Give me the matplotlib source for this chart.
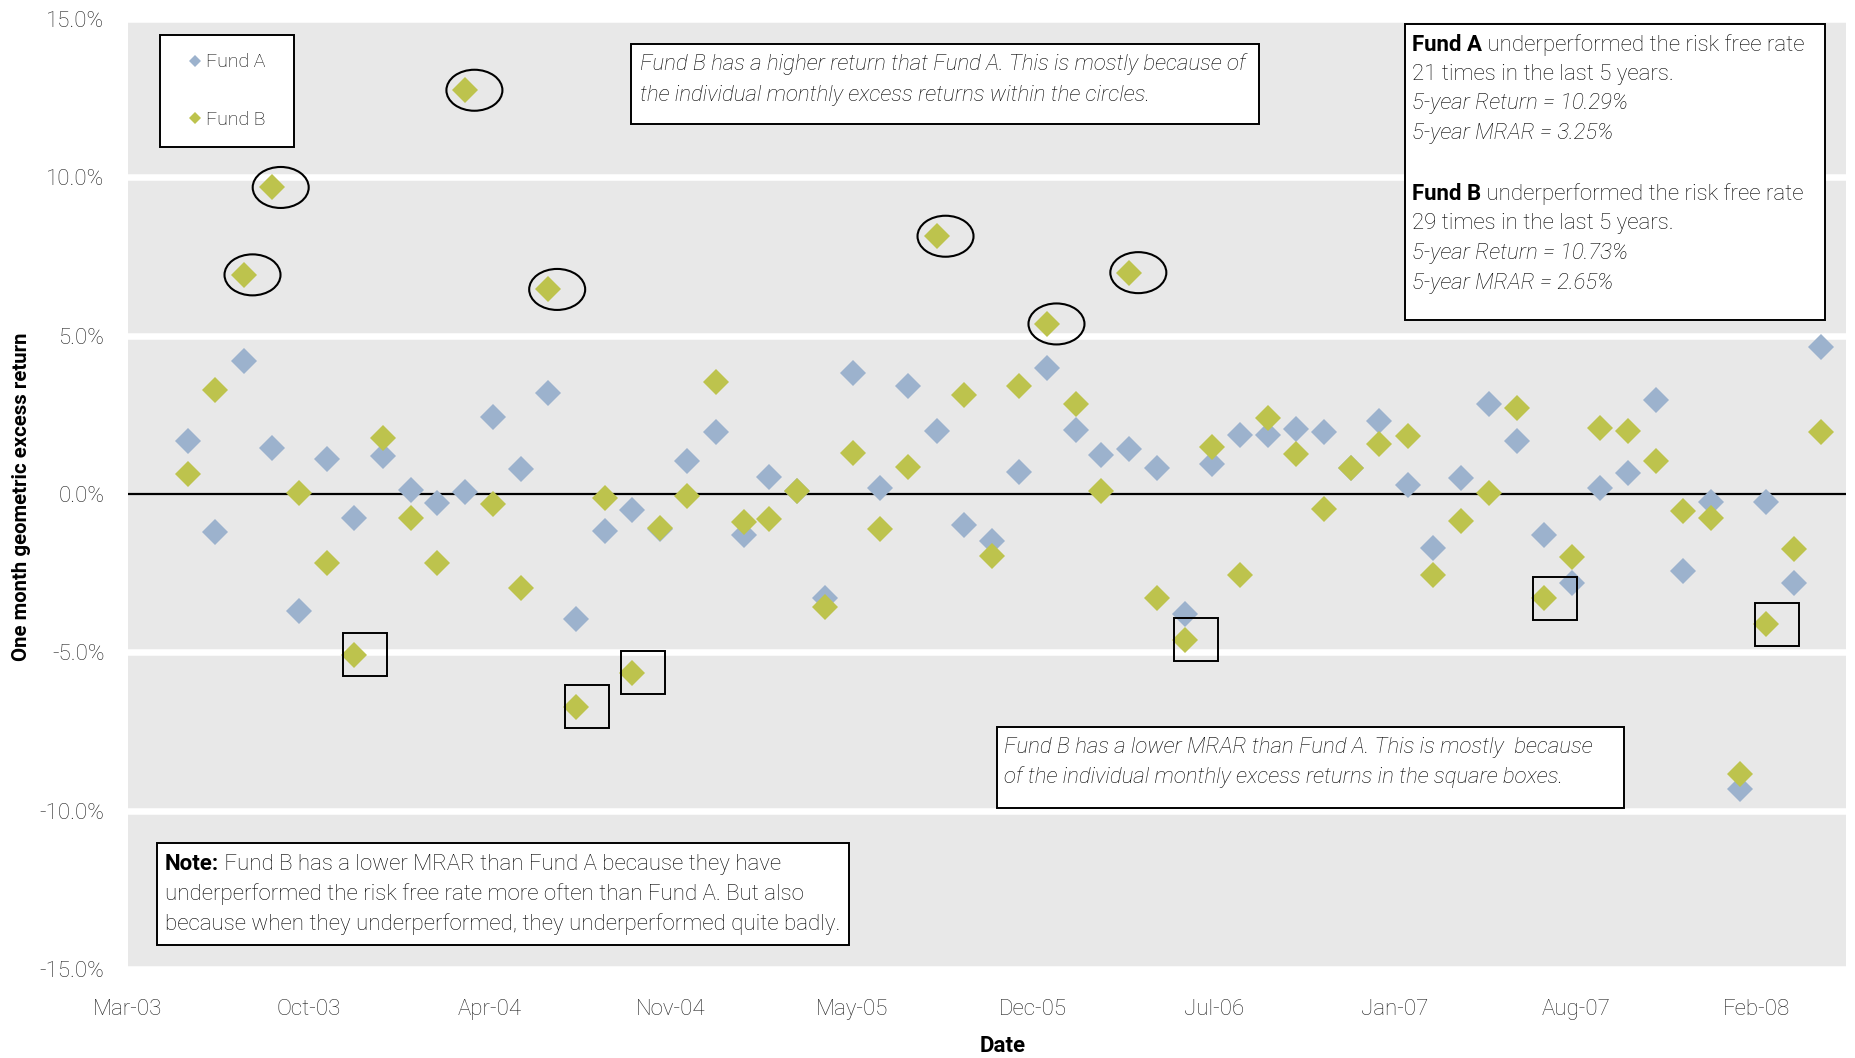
import matplotlib
matplotlib.use("Agg")
import matplotlib.pyplot as plt
import matplotlib.dates as mdates
import pandas as pd
from matplotlib import font_manager
from matplotlib.patches import Ellipse, Rectangle
from matplotlib.ticker import FuncFormatter
from matplotlib.transforms import Affine2D, ScaledTranslation

# monthly geometric excess returns (%), May-03 .. Apr-08
dates = pd.date_range("2003-05-31", periods=60, freq="ME")
fund_a = [1.68, -1.21, 4.19, 1.45, -3.71, 1.12, -0.75, 1.20, 0.14, -0.29,
          0.05, 2.44, 0.78, 3.20, -3.96, -1.16, -0.52, -1.12, 1.03, 1.95,
          -1.29, 0.55, 0.08, -3.29, 3.81, 0.20, 3.42, 1.99, -0.98, -1.47,
          0.70, 3.99, 2.02, 1.23, 1.42, 0.81, -3.79, 0.95, 1.87, 1.86,
          2.04, 1.95, 0.81, 2.32, 0.28, -1.72, 0.49, 2.83, 1.68, -1.31,
          -2.82, 0.20, 0.65, 2.97, -2.42, -0.24, -9.33, -0.24, -2.80, 4.64]
fund_b = [0.62, 3.27, 6.92, 9.68, 0.04, -2.19, -5.08, 1.77, -0.75, -2.19,
          12.75, -0.33, -2.98, 6.46, -6.72, -0.14, -5.64, -1.06, -0.06, 3.54,
          -0.87, -0.79, 0.08, -3.56, 1.31, -1.09, 0.84, 8.14, 3.13, -1.96,
          3.41, 5.37, 2.83, 0.09, 6.99, -3.29, -4.61, 1.49, -2.57, 2.39,
          1.26, -0.48, 0.81, 1.58, 1.83, -2.57, -0.85, 0.04, 2.71, -3.29,
          -2.00, 2.09, 1.99, 1.03, -0.53, -0.75, -8.85, -4.11, -1.73, 1.95]

circled = [2, 3, 10, 13, 27, 31, 34]      # big Fund B gains
boxed = [6, 14, 16, 36, 49, 57]           # big Fund B losses

tick_dates = pd.date_range("2003-03-26", periods=10, freq="199D")
y_ticks = [-15, -10, -5, 0, 5, 10, 15]

BLUE = "#9cb2cd"
GREEN = "#bdc34d"

names = {f.name for f in font_manager.fontManager.ttflist}
if "Roboto" in names:
    plt.rcParams["font.family"] = ["Roboto", "DejaVu Sans"]
    plt.rcParams["font.weight"] = "light"
    FS = 16
else:
    plt.rcParams["font.family"] = ["Liberation Sans", "DejaVu Sans"]
    FS = 15.3

W, H = 1856, 1058
fig = plt.figure(figsize=(W / 100, H / 100), dpi=100)
ax = fig.add_axes([128 / W, 89 / H, 1718 / W, 950 / H])
ax.set_facecolor("#e8e8e8")
for s in ax.spines.values():
    s.set_visible(False)

x = mdates.date2num(dates)
ax.plot(x, fund_a, "D", ms=13.7, mew=0, color=BLUE, zorder=3, label="Fund A")
ax.plot(x, fund_b, "D", ms=13.7, mew=0, color=GREEN, zorder=3, label="Fund B")

x0 = mdates.date2num(tick_dates[0])
ax.set_xlim(x0, x0 + 1889)
ax.set_ylim(-15, 15)
ax.set_xticks(mdates.date2num(tick_dates))
ax.xaxis.set_major_formatter(mdates.DateFormatter("%b-%y"))
ax.set_yticks(y_ticks)
ax.yaxis.set_major_formatter(FuncFormatter(lambda v, p: f"{v:.1f}%"))
ax.tick_params(length=0, labelsize=16, labelcolor="#222222")
ax.tick_params(axis="x", pad=21.5)
ax.tick_params(axis="y", pad=17)

for v in y_ticks:
    if v != 0:
        ax.axhline(v, color="white", lw=4.7, zorder=1)
ax.axhline(0, color="black", lw=1.6, zorder=2)

# circles / squares around selected Fund B months (sizes in inches)
for i in circled:
    off = ScaledTranslation(x[i], fund_b[i], ax.transData)
    ax.add_artist(Ellipse((0.09, 0.0), 0.56, 0.41, transform=fig.dpi_scale_trans + off,
                          fill=False, ec="black", lw=1.5, zorder=4))
for i in boxed:
    off = ScaledTranslation(x[i], fund_b[i], ax.transData)
    ax.add_artist(Rectangle((0.11 - 0.22, -0.215), 0.44, 0.43, transform=fig.dpi_scale_trans + off,
                            fill=False, ec="black", lw=1.4, zorder=4))

# pixel coordinates, origin top-left
tpx = Affine2D().scale(1, -1).translate(0, H)


def box(x1, y1, x2, y2):
    ax.add_artist(Rectangle((x1, y1), x2 - x1, y2 - y1, transform=tpx, fc="white",
                            ec="black", lw=1.4, zorder=5, clip_on=False))


def line(xp, yp, parts, size=FS):
    prev = None
    for s, weight, style in parts:
        if prev is None:
            prev = ax.text(xp, yp, s, transform=tpx, fontsize=size, fontweight=weight,
                           fontstyle=style, va="center", ha="left", zorder=6)
        else:
            prev = ax.annotate(s, xy=(1, 0), xycoords=prev, fontsize=size, fontweight=weight,
                               fontstyle=style, va="bottom", ha="left", zorder=6)


# legend
box(160, 35, 294, 147)
leg = ax.legend(loc="upper left", bbox_to_anchor=(0.0355, 0.9637), frameon=False,
                borderpad=0, borderaxespad=0, handlelength=0.62, handletextpad=0.26,
                labelspacing=2.01, markerscale=0.45, fontsize=14)
leg.set_zorder(7)

# top middle note
box(631, 44, 1259, 124)
line(640, 64, [("Fund B has a higher return that Fund A. This is mostly because of", "light", "italic")])
line(640, 95, [("the individual monthly excess returns within the circles.", "light", "italic")])

# top right summary
box(1405, 24, 1825, 320)
line(1412, 45, [("Fund A", "bold", "normal"), (" underperformed the risk free rate", "light", "normal")])
line(1412, 74.5, [("21 times in the last 5 years.", "light", "normal")])
line(1412, 104, [("5-year Return = 10.29%", "light", "italic")])
line(1412, 134, [("5-year MRAR = 3.25%", "light", "italic")])
line(1412, 194, [("Fund B", "bold", "normal"), (" underperformed the risk free rate", "light", "normal")])
line(1412, 223.5, [("29 times in the last 5 years.", "light", "normal")])
line(1412, 253, [("5-year Return = 10.73%", "light", "italic")])
line(1412, 283, [("5-year MRAR = 2.65%", "light", "italic")])

# lower right note
box(997, 727, 1624, 808)
line(1004, 747, [("Fund B has a lower MRAR than Fund A. This is mostly  because", "light", "italic")])
line(1004, 777, [("of the individual monthly excess returns in the square boxes.", "light", "italic")])

# bottom left note
box(157, 843, 849, 945)
line(165, 864, [("Note:", "bold", "normal"), (" Fund B has a lower MRAR than Fund A because they have", "light", "normal")])
line(165, 894, [("underperformed the risk free rate more often than Fund A. But also", "light", "normal")])
line(165, 924, [("because when they underperformed, they underperformed quite badly.", "light", "normal")])

# axis titles
ax.text(22, 497, "One month geometric excess return", transform=tpx, rotation=90,
        ha="center", va="center", fontsize=14.7, fontweight="bold")
ax.text(1003, 1046, "Date", transform=tpx, ha="center", va="center",
        fontsize=16, fontweight="bold")

fig.savefig("out.png", dpi=100)
